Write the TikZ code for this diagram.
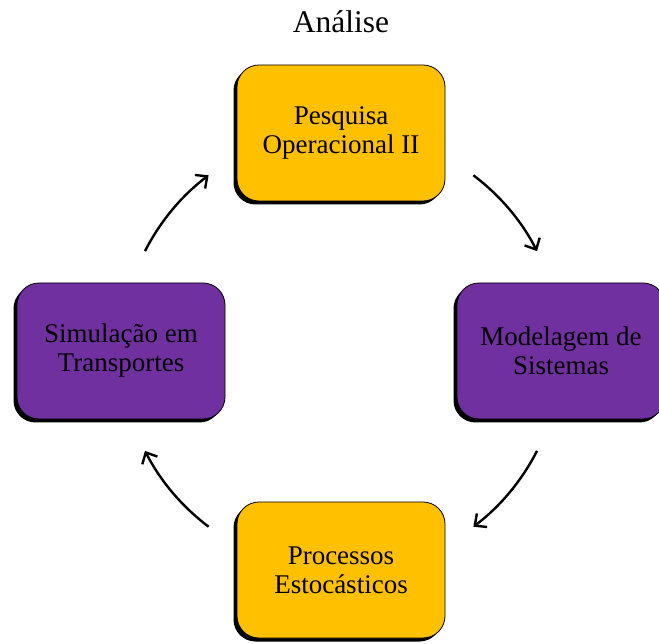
\documentclass[tikz,border=0pt]{standalone}
\usepackage{fontspec}
\setmainfont{Liberation Serif}
\usetikzlibrary{shadows,arrows.meta,calc}
\definecolor{boxgold}{HTML}{FFC000}
\definecolor{boxpurple}{HTML}{7030A0}
\tikzset{
  cyclebox/.style={rectangle, rounded corners=22pt, draw=black, line width=0.8pt,
    minimum width=208pt, minimum height=136pt, align=center,
    font=\fontsize{27}{29}\selectfont, text=black,
    drop shadow={shadow xshift=-3.5pt, shadow yshift=-3.5pt, fill=black, opacity=1}},
  goldbox/.style={cyclebox, fill=boxgold},
  purplebox/.style={cyclebox, fill=boxpurple},
  cyclearrow/.style={line width=2.4pt, -{Straight Barb[length=9pt, width=17pt, line width=2.4pt]}},
}
\begin{document}
\begin{tikzpicture}[x=1pt,y=1pt]
\useasboundingbox (0,0) rectangle (659,643);
\clip (0,0) rectangle (659,643);
\fill[white] (0,0) rectangle (659,643);
\node[font=\fontsize{31.5}{36}\selectfont] (title) at (341,621) {Análise};
\node[goldbox] (po) at (341,510) {Pesquisa\\Operacional II};
\node[purplebox] (ms) at (561,292) {Modelagem de\\Sistemas};
\node[goldbox] (pe) at (341,73) {Processos\\Estocásticos};
\node[purplebox] (st) at (121,292) {Simulação em\\Transportes};
\coordinate (O) at (341,292);
\coordinate (a1) at ($(O)+(153:220pt)$);
\coordinate (a2) at ($(O)+(53:220pt)$);
\coordinate (a3) at ($(O)+(-27:220pt)$);
\coordinate (a4) at ($(O)+(-127:220pt)$);
\draw[cyclearrow] (a1) arc[start angle=153, end angle=127, radius=220pt];
\draw[cyclearrow] (a2) arc[start angle=53, end angle=27, radius=220pt];
\draw[cyclearrow] (a3) arc[start angle=-27, end angle=-53, radius=220pt];
\draw[cyclearrow] (a4) arc[start angle=-127, end angle=-153, radius=220pt];
\end{tikzpicture}
\end{document}
